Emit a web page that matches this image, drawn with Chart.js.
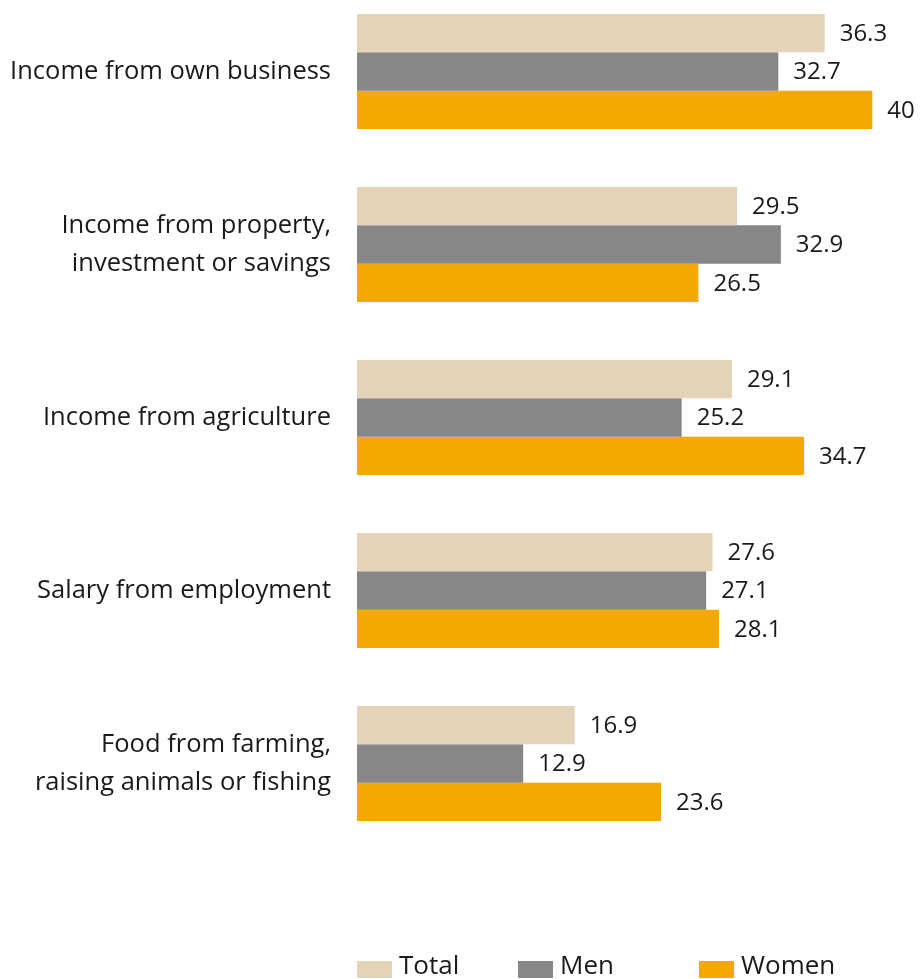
<!DOCTYPE html>
<html>
<head>
<meta charset="utf-8">
<script src="https://cdn.jsdelivr.net/npm/chart.js@4"></script>
<style>
  html, body { margin: 0; padding: 0; background: #ffffff; }
  #wrap { width: 921px; height: 979px; position: relative; }
</style>
</head>
<body>
<div id="wrap"><canvas id="chart"></canvas></div>
<script>
// Sources of money or food, share (%) by sex
const categories = [
  "Income from own business",
  ["Income from property,", "investment or savings"],
  "Income from agriculture",
  "Salary from employment",
  ["Food from farming,", "raising animals or fishing"]
];
const totalValues = [36.3, 29.5, 29.1, 27.6, 16.9];
const menValues   = [32.7, 32.9, 25.2, 27.1, 12.9];
const womenValues = [40, 26.5, 34.7, 28.1, 23.6];
const seriesNames = ["Total", "Men", "Women"];
const seriesColors = ["#E3D4B9", "#878787", "#F5A800"];

const FONT = "'Open Sans', 'Noto Sans', sans-serif";
const TEXT = "#1a1a1a";

// Writes each bar's value just past its end
const valueLabels = {
  id: "valueLabels",
  afterDatasetsDraw(chart) {
    const ctx = chart.ctx;
    ctx.save();
    ctx.font = "24px " + FONT;
    ctx.fillStyle = TEXT;
    ctx.textAlign = "left";
    ctx.textBaseline = "middle";
    chart.data.datasets.forEach((ds, di) => {
      chart.getDatasetMeta(di).data.forEach((bar, i) => {
        ctx.fillText(String(ds.data[i]), bar.x + 15, bar.y + 1);
      });
    });
    ctx.restore();
  }
};

// Legend row under the plot, starting at the plot's left edge
const bottomLegend = {
  id: "bottomLegend",
  afterDraw(chart) {
    const ctx = chart.ctx;
    const x0 = chart.chartArea.left;
    const offsets = [0, 161, 342];
    const y = 966;
    ctx.save();
    ctx.font = "26px " + FONT;
    ctx.textBaseline = "middle";
    ctx.textAlign = "left";
    chart.data.datasets.forEach((ds, i) => {
      const bx = x0 + offsets[i];
      ctx.fillStyle = ds.backgroundColor;
      ctx.fillRect(bx, y - 5, 35, 17);
      ctx.fillStyle = TEXT;
      ctx.fillText(ds.label, bx + 42, y + 1);
    });
    ctx.restore();
  }
};

const datasets = [totalValues, menValues, womenValues].map((vals, i) => ({
  label: seriesNames[i],
  data: vals,
  backgroundColor: seriesColors[i],
  borderWidth: 0,
  categoryPercentage: 0.665,
  barPercentage: 1,
  clip: false
}));

new Chart(document.getElementById("chart"), {
  type: "bar",
  data: { labels: categories, datasets },
  options: {
    indexAxis: "y",
    responsive: true,
    maintainAspectRatio: false,
    animation: false,
    layout: { padding: { top: 71.5, bottom: 215.5, left: 0, right: 10 } },
    plugins: { legend: { display: false }, tooltip: { enabled: false } },
    scales: {
      x: {
        min: 0,
        max: 43,
        display: false
      },
      y: {
        offset: false,
        grid: { display: false },
        border: { display: false },
        ticks: {
          color: TEXT,
          font: { family: FONT, size: 25.5, lineHeight: 1.5 },
          padding: 18
        },
        afterFit(scale) { scale.width = 357; }
      }
    }
  },
  plugins: [valueLabels, bottomLegend]
});
</script>
</body>
</html>
